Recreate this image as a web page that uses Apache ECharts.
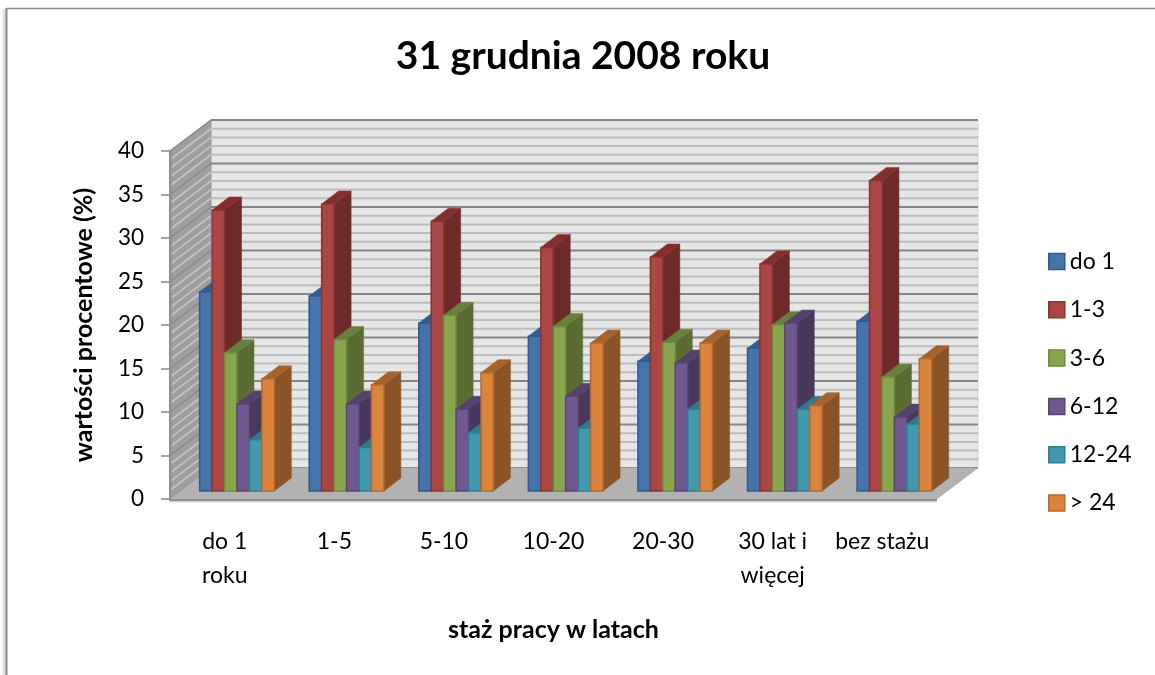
<!DOCTYPE html>
<html><head><meta charset="utf-8">
<style>html,body{margin:0;padding:0;background:#fff}#c{width:1155px;height:675px}</style>
<script src="https://cdn.jsdelivr.net/npm/echarts@6/dist/echarts.min.js"></script>
</head><body><div id="c"></div>
<script>
const categories = ['do 1\nroku','1-5','5-10','10-20','20-30','30 lat i\nwięcej','bez stażu'];
const do1   = [22.9,22.4,19.3,17.8,14.9,16.4,19.5];
const r1_3  = [32.3,33.0,31.0,28.0,26.9,26.1,35.7];
const r3_6  = [15.9,17.4,20.2,18.9,17.1,19.1,13.1];
const r6_12 = [10.0,10.0, 9.4,10.9,14.7,19.3, 8.5];
const r12_24= [ 5.9, 5.0, 6.7, 7.2, 9.4, 9.4, 7.7];
const r24   = [12.9,12.2,13.6,17.0,17.0, 9.8,15.2];
const seriesNames = ['do 1','1-3','3-6','6-12','12-24','> 24'];
const seriesValues = [do1,r1_3,r3_6,r6_12,r12_24,r24];
const palette = [
 {front:'#4474aa',edge:'#33598a',side:'#2c4f7c',top:'#335f92'},
 {front:'#aa4643',edge:'#8a3533',side:'#6e2a28',top:'#822f2d'},
 {front:'#89a54e',edge:'#6f8a3c',side:'#5a6c33',top:'#67803b'},
 {front:'#71588f',edge:'#5a4374',side:'#49385e',top:'#54426c'},
 {front:'#4198af',edge:'#2d7d93',side:'#2a6a7c',top:'#2e7a8f'},
 {front:'#db843d',edge:'#b46a2c',side:'#8a5427',top:'#a6622b'}
];
const yTicksMinor = [];
for (let t = 0; t <= 40; t++) yTicksMinor.push(t);

const wallDx = 41, wallDy = -31;       // depth of the whole 3D box
const barDx = 12.2, barDy = -8;        // front plane of the bars in the box
const barDepthX = 17, barDepthY = -13; // depth of a bar
const barShare = 0.1136;               // bar width as a share of a category band

function poly(points, fill, stroke, lw) {
  return {type:'polygon', shape:{points}, style:{fill, stroke:stroke||fill, lineWidth:lw==null?0.5:lw}};
}
function line(x1,y1,x2,y2,stroke,lw){
  return {type:'line', shape:{x1,y1,x2,y2}, style:{stroke, lineWidth:lw}};
}
function renderBox(params, api) {
  const cs = params.coordSys, left = cs.x, right = cs.x + cs.width;
  const y0 = api.coord([0,0])[1], y40 = api.coord([0,40])[1];
  return {type:'group', children:[
    poly([[left+wallDx,y40+wallDy],[right+wallDx,y40+wallDy],[right+wallDx,y0+wallDy],[left+wallDx,y0+wallDy]],'#e6e6e6','#d8d8d8',1),
    poly([[left,y40],[left+wallDx,y40+wallDy],[left+wallDx,y0+wallDy],[left,y0]],'#9e9e9e','#9a9a9a',1)
  ]};
}
function renderGrid(params, api) {
  const cs = params.coordSys, left = cs.x, right = cs.x + cs.width;
  const v = api.value(0), y = api.coord([0,v])[1];
  const major = v % 5 === 0;
  return {type:'group', children:[
    line(left+wallDx,y+wallDy,right+wallDx,y+wallDy, major?'#858585':'#bcbcbc', 2),
    line(left,y,left+wallDx,y+wallDy, major?'#8a8a8a':'#c2c2c2', major?1.5:1.8)
  ]};
}
function renderFloor(params, api) {
  const cs = params.coordSys, left = cs.x, right = cs.x + cs.width;
  const y0 = api.coord([0,0])[1], y40 = api.coord([0,40])[1];
  return {type:'group', children:[
    poly([[left,y0],[right,y0],[right+wallDx,y0+wallDy],[left+wallDx,y0+wallDy]],'#b2b2b2','#b2b2b2',0.5),
    {type:'rect', shape:{x:left,y:y0,width:cs.width,height:2}, style:{fill:'#8f8f8f'}},
    {type:'rect', shape:{x:left,y:y0+2,width:cs.width,height:1.5}, style:{fill:'#d4d4d4'}},
    {type:'rect', shape:{x:left-1,y:y40,width:2.5,height:y0-y40+2}, style:{fill:'#8f8f8f'}}
  ]};
}
function renderBar(params, api) {
  const k = params.seriesIndex - 3, c = palette[k];
  const cat = api.value(0), val = api.value(1);
  const bw = api.size([1,0])[0] * barShare;
  const base = api.coord([cat,0]), tip = api.coord([cat,val]);
  const x0 = base[0] + barDx + (k-3)*bw, x1 = x0 + bw;
  const yb = base[1] + barDy, yt = tip[1] + barDy;
  const ex = barDepthX, ey = barDepthY;
  return {type:'group', children:[
    poly([[x1,yt],[x1+ex,yt+ey],[x1+ex,yb+ey],[x1,yb]], c.side, c.side, 0.5),
    poly([[x0,yt],[x0+ex,yt+ey],[x1+ex,yt+ey],[x1,yt]], c.top, c.top, 0.5),
    {type:'rect', shape:{x:x0,y:yt,width:bw,height:yb-yt},
     style:{fill:c.front, stroke:c.edge, lineWidth:1.5}}
  ]};
}

const FONT = 'Lato';
const series = [
  {type:'custom', name:'box', silent:true, renderItem:renderBox, data:[[0,0]], encode:{x:0,y:1}, z:1},
  {type:'custom', name:'grid', silent:true, renderItem:renderGrid, data:yTicksMinor.map(v=>[v]), encode:{y:0}, z:2},
  {type:'custom', name:'floor', silent:true, renderItem:renderFloor, data:[[0,0]], encode:{x:0,y:1}, z:3}
];
seriesNames.forEach((n,k)=>{
  series.push({type:'custom', name:n, renderItem:renderBar, z:4,
    itemStyle:{color:palette[k].front, borderColor:palette[k].edge},
    encode:{x:0,y:1},
    data:seriesValues[k].map((v,i)=>[i,v])});
});

const chart = echarts.init(document.getElementById('c'),null,{renderer:'canvas'});
chart.setOption({
  animation:false,
  backgroundColor:'#ffffff',
  textStyle:{fontFamily:FONT},
  title:{text:'31 grudnia 2008 roku', left:578, top:32, textAlign:'center',
    textStyle:{fontFamily:FONT,fontSize:39,fontWeight:'bold',color:'#000'}},
  legend:{data:seriesNames.map((n,k)=>({name:n,icon:'rect',
      itemStyle:{color:palette[k].front,borderColor:palette[k].edge,borderWidth:1.5}})),
    orient:'vertical', left:1043, top:245, itemWidth:16, itemHeight:16, itemGap:25.3,
    selectedMode:false, textStyle:{fontFamily:FONT,fontSize:23,color:'#000',lineHeight:23,padding:[0,0,0,0]}},
  grid:{left:170,right:218,top:151,bottom:176},
  xAxis:{type:'category',data:categories,
    axisLine:{show:false},axisTick:{show:false},
    axisLabel:{interval:0,margin:26,fontFamily:FONT,fontSize:23,lineHeight:34,color:'#000'},
    name:'staż pracy w latach',nameLocation:'middle',nameGap:118,
    nameTextStyle:{fontFamily:FONT,fontSize:25,fontWeight:'bold',color:'#000'}},
  yAxis:{type:'value',min:0,max:40,interval:5,
    splitLine:{show:false},axisLine:{show:false},
    axisTick:{show:true,length:9,lineStyle:{color:'#868686',width:1.5}},
    axisLabel:{margin:26,fontFamily:FONT,fontSize:22.5,color:'#000',padding:[3,0,0,0]},
    name:'wartości procentowe (%)',nameLocation:'middle',nameGap:74,nameRotate:90,
    nameTextStyle:{fontFamily:FONT,fontSize:25,fontWeight:'bold',color:'#000'}},
  graphic:[
    {type:'rect',shape:{x:1,y:9,width:5,height:666},silent:true,
     style:{fill:new echarts.graphic.LinearGradient(0,0,1,0,[{offset:0,color:'#ffffff'},{offset:1,color:'#cfcfcf'}])}},
    {type:'line',shape:{x1:6,y1:8.5,x2:1155,y2:8.5},silent:true,style:{stroke:'#8a8a8a',lineWidth:1.5}},
    {type:'line',shape:{x1:6.5,y1:8,x2:6.5,y2:675},silent:true,style:{stroke:'#8a8a8a',lineWidth:2}}
  ],
  series
});
</script></body></html>
